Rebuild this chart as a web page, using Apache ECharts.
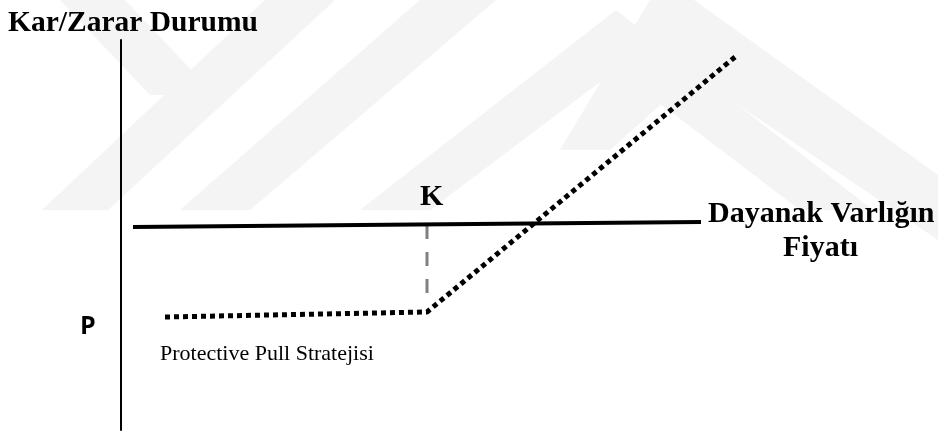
<!DOCTYPE html>
<html>
<head>
<meta charset="utf-8">
<script src="https://cdn.jsdelivr.net/npm/echarts@6/dist/echarts.min.js"></script>
<style>
  html, body { margin: 0; padding: 0; background: #fff; }
  #main { width: 938px; height: 433px; }
</style>
</head>
<body>
<div id="main"></div>
<script>
// underlying asset price line (profit = 0), slightly tilted as in the picture
var assetX = [12, 580];
var assetY = [-2, 3];

// protective put payoff
var payoffX = [44, 306, 614];
var payoffY = [-92, -87, 168];

// strike marker K
var strikeX = [306, 306];
var strikeY = [0, -80];

function pairs(xs, ys) {
    return xs.map(function (x, i) { return [x, ys[i]]; });
}

var serif = '"Liberation Serif", "Times New Roman", serif';
var wm = '#f4f4f4';

// faint background watermark (decoration only)
var watermark = [
    [[60, 0], [125, 0], [215, 95], [150, 95]],
    [[42, 210], [108, 210], [335, 0], [265, 0]],
    [[180, 210], [250, 210], [496, 0], [420, 0]],
    [[360, 210], [430, 210], [616, 70], [800, 210], [873, 210], [616, 10]],
    [[560, 150], [610, 150], [694, 75], [938, 240], [938, 175], [694, 0], [650, 0]]
].map(function (pts) {
    return { type: 'polygon', z: -10, silent: true, shape: { points: pts }, style: { fill: wm } };
});

var option = {
    animation: false,
    backgroundColor: '#fff',
    grid: {
        left: 121,
        top: 40,
        width: 700,
        height: 390
    },
    xAxis: {
        type: 'value',
        min: 0,
        max: 700,
        axisLine: { show: false },
        axisTick: { show: false },
        axisLabel: { show: false },
        splitLine: { show: false }
    },
    yAxis: {
        type: 'value',
        min: -205,
        max: 185,
        axisLine: {
            show: true,
            onZero: false,
            lineStyle: { color: '#000', width: 2 }
        },
        axisTick: { show: false },
        axisLabel: { show: false },
        splitLine: { show: false }
    },
    series: [{
        name: 'payoff',
        type: 'line',
        symbol: 'none',
        z: 2,
        lineStyle: { color: '#000', width: 5, type: [5, 4], cap: 'butt' },
        data: pairs(payoffX, payoffY)
    }, {
        name: 'asset',
        type: 'line',
        symbol: 'none',
        z: 3,
        lineStyle: { color: '#000', width: 4 },
        data: pairs(assetX, assetY)
    }, {
        name: 'strike',
        type: 'line',
        symbol: 'none',
        z: 1,
        lineStyle: { color: '#808080', width: 3, type: [14, 13], cap: 'butt' },
        data: pairs(strikeX, strikeY)
    }],
    graphic: watermark.concat([{
        type: 'text', left: 8, top: 8,
        style: { text: 'Kar/Zarar Durumu', font: 'bold 29.5px ' + serif, fill: '#000' }
    }, {
        type: 'text', left: 420, top: 182,
        style: { text: 'K', font: 'bold 30px ' + serif, fill: '#000' }
    }, {
        type: 'text', left: 708, top: 199,
        style: { text: 'Dayanak Varlığın', font: 'bold 30px ' + serif, fill: '#000' }
    }, {
        type: 'text', left: 783, top: 233,
        style: { text: 'Fiyatı', font: 'bold 30px ' + serif, fill: '#000' }
    }, {
        type: 'text', left: 80, top: 314,
        style: { text: 'P', font: 'bold 25px "Open Sans", sans-serif', fill: '#000' }
    }, {
        type: 'text', left: 160, top: 343,
        style: { text: 'Protective Pull Stratejisi', font: '22px ' + serif, fill: '#000' }
    }])
};

var myChart = echarts.init(document.getElementById('main'));
myChart.setOption(option);
</script>
</body>
</html>
